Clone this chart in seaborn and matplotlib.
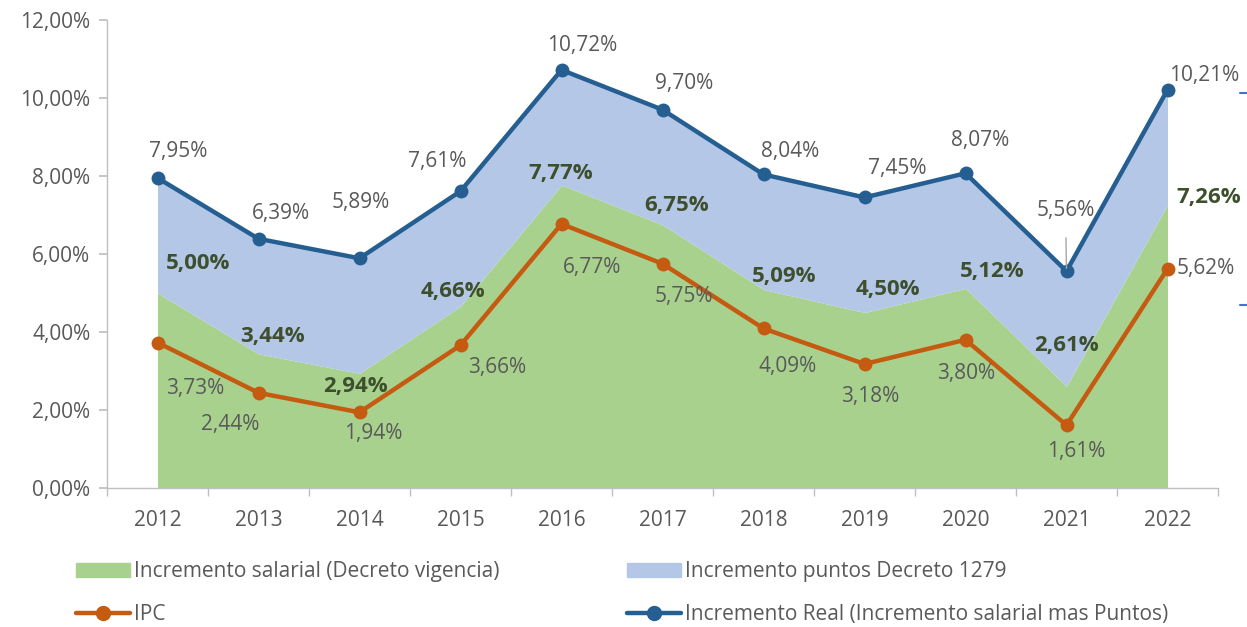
import numpy as np
import pandas as pd
import matplotlib
matplotlib.use("Agg")
import matplotlib.pyplot as plt
import seaborn as sns
from matplotlib.patches import Patch
from matplotlib.lines import Line2D

years = [2012, 2013, 2014, 2015, 2016, 2017, 2018, 2019, 2020, 2021, 2022]
salario = [5.00, 3.44, 2.94, 4.66, 7.77, 6.75, 5.09, 4.50, 5.12, 2.61, 7.26]
puntos = [2.95, 2.95, 2.95, 2.95, 2.95, 2.95, 2.95, 2.95, 2.95, 2.95, 2.95]
real = [7.95, 6.39, 5.89, 7.61, 10.72, 9.70, 8.04, 7.45, 8.07, 5.56, 10.21]
ipc = [3.73, 2.44, 1.94, 3.66, 6.77, 5.75, 4.09, 3.18, 3.80, 1.61, 5.62]

# label offsets in pixels (dx, dy up)
off_real = [(21, 26), (22, 25), (1, 56), (-23, 30), (21, 24), (22, 26), (27, 23),
            (33, 29), (15, 33), (-1, 61), (37, 14)]
off_sal = [(41, 30), (14, 17), (-4, -13), (-8, 15), (-1, 11), (14, 19), (21, 13),
           (23, 23), (27, 17), (0, 41), (41, 7)]
off_ipc = [(38, -46), (-28, -32), (14, -21), (37, -22), (31, -44), (21, -33), (24, -38),
           (6, -33), (1, -34), (10, -26), (38, 0)]

c_green = "#a9d18e"
c_lblue = "#b4c7e7"
c_blue = "#255e91"
c_orange = "#c55a11"
c_text = "#595959"
c_dgreen = "#3e4f2d"

sns.set_theme(style="white")
plt.rcParams["font.family"] = ["Open Sans", "DejaVu Sans"]

df = pd.DataFrame({"year": years, "real": real, "ipc": ipc})

fig = plt.figure(figsize=(12.47, 6.27), dpi=100)
ax = fig.add_axes([107 / 1247, 139 / 627, 1111 / 1247, 468 / 627])

ax.stackplot(years, salario, puntos, colors=[c_green, c_lblue], linewidth=0)
sns.lineplot(data=df, x="year", y="ipc", ax=ax, color=c_orange, lw=3.2,
             marker="o", markersize=10, markeredgewidth=0)
sns.lineplot(data=df, x="year", y="real", ax=ax, color=c_blue, lw=3.2,
             marker="o", markersize=10, markeredgewidth=0)

def fmt(v):
    return f"{v:.2f}".replace(".", ",") + "%"

fs = 15
for i, y in enumerate(years):
    dx, dy = off_real[i]
    if i == 9:
        ax.annotate(fmt(real[i]), (y, real[i]), xytext=(dx, dy), textcoords="offset pixels",
                    ha="center", va="center", fontsize=fs, color=c_text,
                    arrowprops=dict(arrowstyle="-", color="#a6a6a6", lw=1,
                                    shrinkA=10, shrinkB=2))
    else:
        ax.annotate(fmt(real[i]), (y, real[i]), xytext=(dx, dy), textcoords="offset pixels",
                    ha="center", va="center", fontsize=fs, color=c_text)
    dx, dy = off_sal[i]
    ax.annotate(fmt(salario[i]), (y, salario[i]), xytext=(dx, dy), textcoords="offset pixels",
                ha="center", va="center", fontsize=16, color=c_dgreen, fontweight="bold")
    dx, dy = off_ipc[i]
    ax.annotate(fmt(ipc[i]), (y, ipc[i]), xytext=(dx, dy), textcoords="offset pixels",
                ha="center", va="center", fontsize=fs, color=c_text)

ax.set_xlim(2011.5, 2022.5)
ax.set_ylim(0, 12)
ax.set_yticks(np.arange(0, 13, 2))
ax.set_yticklabels([fmt(v) for v in np.arange(0, 13, 2)])
ax.set_xticks(years)
ax.set_xticklabels([str(y) for y in years])
ax.set_xticks(np.arange(2011.5, 2023, 1), minor=True)
ax.set_xlabel("")
ax.set_ylabel("")

for s in ["top", "right"]:
    ax.spines[s].set_visible(False)
for s in ["left", "bottom"]:
    ax.spines[s].set_color("#bfbfbf")
    ax.spines[s].set_linewidth(1)
ax.tick_params(axis="y", which="major", length=6, color="#bfbfbf", labelsize=fs,
               labelcolor=c_text, left=True, pad=6)
ax.tick_params(axis="x", which="major", length=0, labelsize=fs, labelcolor=c_text, pad=16)
ax.tick_params(axis="x", which="minor", length=6, color="#bfbfbf", bottom=True)
ax.grid(False)

h1 = [Patch(color=c_green, label="Incremento salarial (Decreto vigencia)"),
      Line2D([], [], color=c_orange, lw=3.2, marker="o", markersize=10, label="IPC")]
h2 = [Patch(color=c_lblue, label="Incremento puntos Decreto 1279"),
      Line2D([], [], color=c_blue, lw=3.2, marker="o", markersize=10,
             label="Incremento Real (Incremento salarial mas Puntos)")]
for hs, x0 in [(h1, 76 / 1247), (h2, 627 / 1247)]:
    fig.legend(handles=hs, loc="upper left", bbox_to_anchor=(x0, 66 / 627), frameon=False,
               fontsize=fs, labelcolor=c_text, handlelength=2.6, handleheight=0.65,
               handletextpad=0.2, labelspacing=1.05, borderaxespad=0, borderpad=0)

# small blue marks at the right edge
for yy in [93, 305]:
    fig.add_artist(Line2D([1240 / 1247, 1247 / 1247], [1 - yy / 627, 1 - yy / 627],
                          color="#4472c4", lw=1.5))

fig.savefig("out.png", dpi=100)
